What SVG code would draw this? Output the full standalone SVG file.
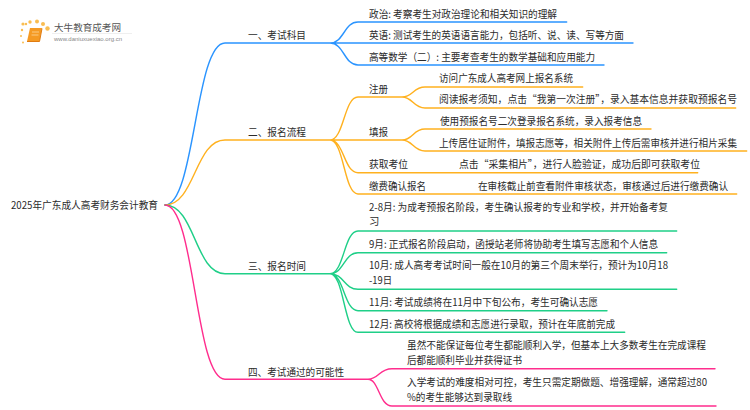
<svg xmlns="http://www.w3.org/2000/svg" width="750" height="410" viewBox="0 0 750 410">
<style>
text{font-family:"Noto Sans CJK SC","Noto Sans",sans-serif;font-size:10.4px;fill:#2b2b2b}
.c{fill:none;stroke-width:1.4;stroke-linecap:round}
.b{stroke:#2a94ff}.o{stroke:#ffb11f}.g{stroke:#1fcf88}.p{stroke:#ff2d8d}
.s{font-size:9.800px}
</style>
<rect width="750" height="410" fill="#fff"/>
<g id="logo">
<g fill="#f9b233" opacity=".85"><circle cx="23" cy="24" r="1.6"/><circle cx="26" cy="24" r="1.2"/><circle cx="30" cy="22" r="1.7"/><circle cx="37" cy="21.5" r="2"/><circle cx="43" cy="24" r="2"/><circle cx="47.500" cy="28.500" r="2.200"/><circle cx="22" cy="30" r="1.200"/><circle cx="21" cy="36" r="1"/><circle cx="23" cy="42.500" r="1"/></g>
<path d="M30 28h12l-2.500 13.500h-12.500z" fill="#f59a23"/><path d="M27 41.500h12.500l2.500-13" fill="none" stroke="#e07b10" stroke-width="1"/><path d="M32 32h7M31.500 35h7" stroke="#fde0b0" stroke-width=".7"/>
<path d="M52 33.500h80" stroke="#e8e8e8" stroke-width=".7"/>
<text x="54" y="31" style="font-size:9.600px;fill:#555" textLength="67" lengthAdjust="spacingAndGlyphs">大牛教育成考网</text>
<text x="54" y="41" style="font-size:5.800px;fill:#888;font-family:'Liberation Sans',sans-serif" textLength="68" lengthAdjust="spacingAndGlyphs">www.daniuxuexiao.org.cn</text>
</g>
<g id="connectors">
<path class="c b" d="M165 205C195 205 195 43 225 43H330M330 43C344 43 344 22 358 22H566.700M330 43H633M330 43C344 43 344 65 358 65H604"/>
<path class="c o" d="M165 205C195 205 195 140 225 140H330M330 140C344 140 344 97 358 97H402M402 97C413 97 413 87 425 87H582.700M402 97C413 97 413 108 425 108H735.700M330 140H402M402 140C413 140 413 129 425 129H651M402 140C413 140 413 151 425 151H746.700M330 140C344 140 344 172.700 358 172.700H697.700M330 140C344 140 344 194 358 194H736.700"/>
<path class="c g" d="M165 205C195 205 195 273.700 225 273.700H330M330 273.700C344 273.700 344 231 358 231H676.700M330 273.700C344 273.700 344 252.700 358 252.700H666.700M330 273.700C344 273.700 344 289.300 358 289.300H676.700M330 273.700C344 273.700 344 310.700 358 310.700H607M330 273.700C344 273.700 344 332.300 358 332.300H624.700"/>
<path class="c p" d="M165 205C195 205 195 379.300 225 379.300H368M368 379.300C379 379.300 379 368.700 392 368.700H715M368 379.300C379 379.300 379 406 392 406H716"/>
</g>
<g id="root"><text x="11" y="209" textLength="147" lengthAdjust="spacingAndGlyphs">2025年广东成人高考财务会计教育</text></g>
<g id="n1"><text x="248" y="39" textLength="58" lengthAdjust="spacingAndGlyphs">一、考试科目</text></g>
<g id="n1-1"><text x="369" y="18" textLength="188" lengthAdjust="spacingAndGlyphs">政治: 考察考生对政治理论和相关知识的理解</text></g>
<g id="n1-2"><text x="369" y="39" textLength="255" lengthAdjust="spacingAndGlyphs">英语: 测试考生的英语语言能力，包括听、说、读、写等方面</text></g>
<g id="n1-3"><text x="369" y="61" textLength="226" lengthAdjust="spacingAndGlyphs">高等数学（二）: 主要考查考生的数学基础和应用能力</text></g>
<g id="n2"><text x="248" y="136" textLength="58" lengthAdjust="spacingAndGlyphs">二、报名流程</text></g>
<g id="n2-1"><text x="369" y="93" textLength="19" lengthAdjust="spacingAndGlyphs">注册</text></g>
<g id="n2-1-1"><text x="439" y="82" textLength="134" lengthAdjust="spacingAndGlyphs">访问广东成人高考网上报名系统</text></g>
<g id="n2-1-2"><text class="s" x="439" y="103" textLength="298" lengthAdjust="spacingAndGlyphs">阅读报考须知，点击“我第一次注册”，录入基本信息并获取预报名号</text></g>
<g id="n2-2"><text x="369" y="136" textLength="19" lengthAdjust="spacingAndGlyphs">填报</text></g>
<g id="n2-2-1"><text x="440" y="125" textLength="202" lengthAdjust="spacingAndGlyphs">使用预报名号二次登录报名系统，录入报考信息</text></g>
<g id="n2-2-2"><text class="s" x="439" y="147" textLength="298" lengthAdjust="spacingAndGlyphs">上传居住证附件，填报志愿等，相关附件上传后需审核并进行相片采集</text></g>
<g id="n2-3"><text x="369" y="168" textLength="39" lengthAdjust="spacingAndGlyphs">获取考位</text><text x="459" y="168" textLength="241" lengthAdjust="spacingAndGlyphs">点击“采集相片”，进行人脸验证，成功后即可获取考位</text></g>
<g id="n2-4"><text x="369" y="190" textLength="57" lengthAdjust="spacingAndGlyphs">缴费确认报名</text><text x="478" y="190" textLength="250" lengthAdjust="spacingAndGlyphs">在审核截止前查看附件审核状态，审核通过后进行缴费确认</text></g>
<g id="n3"><text x="248" y="269.500" textLength="58" lengthAdjust="spacingAndGlyphs">三、报名时间</text></g>
<g id="n3-1"><text x="369" y="211" textLength="299" lengthAdjust="spacingAndGlyphs">2-8月: 为成考预报名阶段，考生确认报考的专业和学校，并开始备考复</text><text x="369" y="225">习</text></g>
<g id="n3-2"><text x="369" y="248" textLength="289" lengthAdjust="spacingAndGlyphs">9月: 正式报名阶段启动，函授站老师将协助考生填写志愿和个人信息</text></g>
<g id="n3-3"><text x="369" y="269" textLength="299" lengthAdjust="spacingAndGlyphs">10月: 成人高考考试时间一般在10月的第三个周末举行，预计为10月18</text><text x="369" y="284" textLength="23" lengthAdjust="spacingAndGlyphs">-19日</text></g>
<g id="n3-4"><text x="369" y="306" textLength="229" lengthAdjust="spacingAndGlyphs">11月: 考试成绩将在11月中下旬公布，考生可确认志愿</text></g>
<g id="n3-5"><text x="369" y="328" textLength="246" lengthAdjust="spacingAndGlyphs">12月: 高校将根据成绩和志愿进行录取，预计在年底前完成</text></g>
<g id="n4"><text x="248" y="375.500" textLength="96" lengthAdjust="spacingAndGlyphs">四、考试通过的可能性</text></g>
<g id="n4-1"><text x="407" y="349" textLength="299" lengthAdjust="spacingAndGlyphs">虽然不能保证每位考生都能顺利入学，但基本上大多数考生在完成课程</text><text x="407" y="364" textLength="115" lengthAdjust="spacingAndGlyphs">后都能顺利毕业并获得证书</text></g>
<g id="n4-2"><text x="407" y="386" textLength="300" lengthAdjust="spacingAndGlyphs">入学考试的难度相对可控，考生只需定期做题、增强理解，通常超过80</text><text x="407" y="401" textLength="105" lengthAdjust="spacingAndGlyphs">%的考生能够达到录取线</text></g>
</svg>
